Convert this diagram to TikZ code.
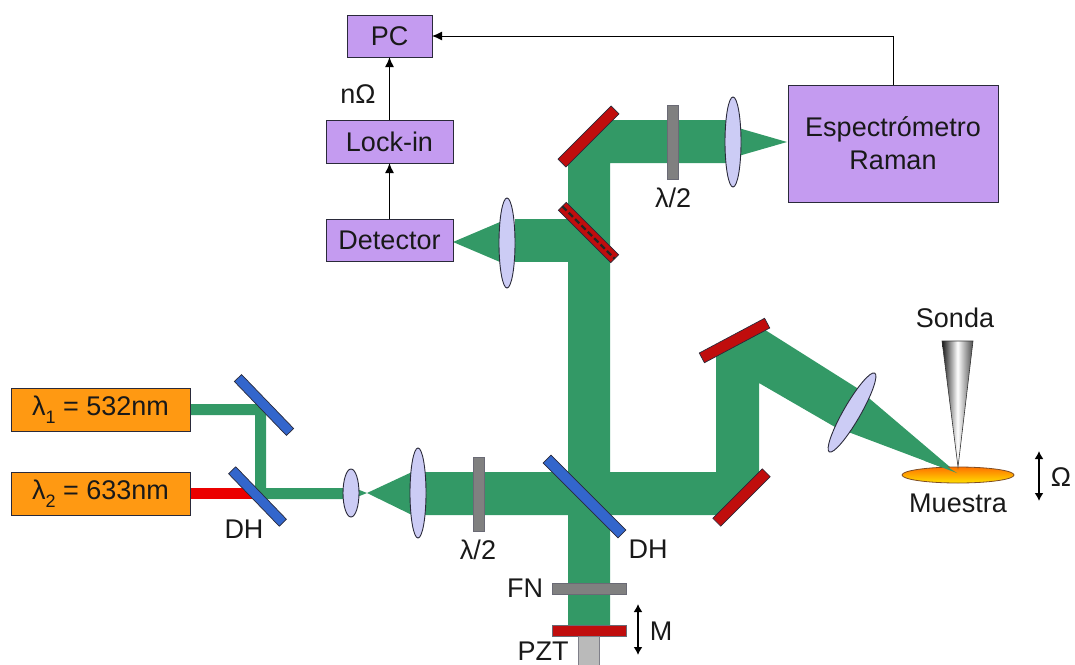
\documentclass[tikz,border=0pt]{standalone}
\usepackage{fontspec}
\setmainfont{Liberation Sans}
\usetikzlibrary{shapes.geometric,arrows.meta}
\definecolor{beam}{HTML}{339966}
\definecolor{boxpurple}{HTML}{C49BF0}
\definecolor{laserorange}{HTML}{FF9912}
\definecolor{mblue}{HTML}{3366CC}
\definecolor{mred}{HTML}{C00D0D}
\definecolor{lensfill}{HTML}{CCCCF5}
\definecolor{edge}{HTML}{2A2A3A}
\newcommand{\lam}[1]{λ\raisebox{-0.3em}{\fontsize{18}{18}\selectfont #1}}
\tikzset{
  x=1pt,y=-1pt,
  every node/.style={font=\fontsize{27}{31}\selectfont,inner sep=0pt,outer sep=0pt,text=black!90},
  boxnode/.style={draw=edge,line width=0.9pt,fill=boxpurple,align=center},
  lasernode/.style={draw=edge,line width=0.9pt,fill=laserorange,minimum width=179pt,minimum height=43pt},
  mirrornode/.style={draw=edge,line width=0.7pt,minimum height=10pt},
  lensnode/.style={ellipse,draw=edge,line width=0.9pt,fill=lensfill},
  platenode/.style={draw=edge!70,line width=0.8pt,fill=gray},
  beamfill/.style={fill=beam,draw=none},
  conn/.style={draw=black,line width=1.4pt,-{Latex[length=10pt,width=9pt]}},
  motion/.style={draw=black,line width=1.6pt,{Latex[length=8pt,width=9pt]}-{Latex[length=8pt,width=9pt]}}
}
\begin{document}
\begin{tikzpicture}
\useasboundingbox (0,0) rectangle (1075,664);
\clip (0,0) rectangle (1075,664);
% beams
\fill[red!92!black] (190,488) rectangle (252,499);
\fill[beamfill] (190,404) -- (258,404) -- (266,412) -- (266,488) -- (345,488) -- (345,499) -- (255,499) -- (255,415) -- (190,415) -- cycle;
\fill[beamfill] (357,489) -- (367,493) -- (357,497) -- cycle;
\fill[beamfill] (367,493) -- (412,472) -- (412,515) -- cycle;
\fill[beamfill] (412,472) -- (568,472) -- (568,160) -- (612,118) -- (612,120) -- (728,120) -- (728,163) -- (610,163) -- (610,472) -- (716,472) -- (716,352) -- (762,328) -- (857,388) -- (957,473) -- (835,427) -- (759,383) -- (759,480) -- (722,515) -- (610,515) -- (610,627) -- (568,627) -- (568,515) -- (412,515) -- cycle;
\fill[beamfill] (728,125) -- (787,142) -- (728,159) -- cycle;
\fill[beamfill] (568,219) -- (515,219) -- (515,262) -- (568,262) -- cycle;
\fill[beamfill] (453,242) -- (500,222) -- (500,262) -- cycle;
% sample and tip
\node[ellipse,draw=edge!60!orange,line width=0.8pt,top color=orange!90!red,bottom color=yellow!75!orange,minimum width=112pt,minimum height=16pt] (sample) at (958,475) {};
\fill[beamfill] (905,440) -- (957,473) -- (925,461) -- cycle;
\shade[left color=black!90,right color=black!70,middle color=white] (942,341) -- (973,341) -- (958,467) -- cycle;
\draw[black!80,line width=0.6pt] (958,467) -- (942,341) -- (973,341) -- cycle;
% optics
\node[mirrornode,fill=mblue,minimum width=75pt] (m1) at (264,405) [rotate=-46] {};
\node[mirrornode,fill=mblue,minimum width=73pt] (dh1) at (257.5,496.5) [rotate=-46] {};
\node[mirrornode,fill=mblue,minimum width=106pt,minimum height=11pt] (dh2) at (584.5,496.5) [rotate=-45] {};
\node[mirrornode,fill=mred,minimum width=70pt,minimum height=11pt] (m2) at (741.5,497.5) [rotate=45] {};
\node[mirrornode,fill=mred,minimum width=74pt,minimum height=11pt] (m3) at (734.5,340.5) [rotate=28] {};
\node[mirrornode,fill=mred,minimum width=75pt,minimum height=11pt] (m4) at (588.5,136.5) [rotate=45] {};
\node[mirrornode,fill=mred,minimum width=74pt,minimum height=11pt] (m5) at (588.5,232.5) [rotate=-45] {};
\draw[black!85,line width=2.2pt,dash pattern=on 6pt off 3pt] (m5.west) -- (m5.east);
\node[lensnode,minimum width=16pt,minimum height=48pt] (l1) at (351,493) {};
\node[lensnode,minimum width=16pt,minimum height=90pt] (l2) at (418,493) {};
\node[lensnode,minimum width=16pt,minimum height=90pt] (l3) at (507,243) {};
\node[lensnode,minimum width=16pt,minimum height=90pt] (l4) at (733,142) {};
\node[lensnode,minimum width=91pt,minimum height=17pt,rotate=60] (l5) at (852,412.5) {};
\node[platenode,minimum width=11pt,minimum height=74pt] (hw1) at (478.5,494) {};
\node[platenode,minimum width=11pt,minimum height=74pt] (hw2) at (672.5,142) {};
\node[platenode,minimum width=74pt,minimum height=11pt] (fn) at (589,588.5) {};
\node[draw=edge!70,line width=0.7pt,fill=mred,minimum width=74pt,minimum height=11pt] (mm) at (589,630.5) {};
\node[draw=edge!60,line width=0.6pt,fill=black!27,minimum width=21pt,minimum height=30pt] (pzt) at (588.5,651) {};
% lasers
\node[lasernode] (la) at (100.5,409.5) {\lam{1} = 532nm};
\node[lasernode] (lb) at (100.5,494) {\lam{2} = 633nm};
% boxes
\node[boxnode,minimum width=85pt,minimum height=42pt] (pc) at (389.5,36) {PC};
\node[boxnode,minimum width=127pt,minimum height=43pt] (lock) at (389.5,141.5) {Lock-in};
\node[boxnode,minimum width=127pt,minimum height=42pt] (det) at (389.5,240) {Detector};
\node[boxnode,minimum width=210pt,minimum height=117pt] (spec) at (893,143.5) {Espectrómetro\\[2pt]Raman};
\draw[conn] (det) -- (lock);
\draw[conn] (lock) -- (pc);
\draw[conn,line width=1pt] (spec.north) |- (pc.east);
% labels
\node (nom) at (358,94) {nΩ};
\node (t1) at (673,198) {λ/2};
\node (t2) at (478,550) {λ/2};
\node (tdh1) at (244,529) {DH};
\node (tdh2) at (648,549) {DH};
\node (tfn) at (525,588) {FN};
\node (tpzt) at (543,651) {PZT};
\node (tm) at (661,631) {M};
\node (tso) at (955,318) {Sonda};
\node (tmu) at (958,503) {Muestra};
\node (tom) at (1061,477) {Ω};
\coordinate (ma) at (638,604);
\coordinate (mb) at (638,655);
\coordinate (oa) at (1039,451);
\coordinate (ob) at (1039,501);
\draw[motion] (ma) -- (mb);
\draw[motion] (oa) -- (ob);
\end{tikzpicture}
\end{document}
